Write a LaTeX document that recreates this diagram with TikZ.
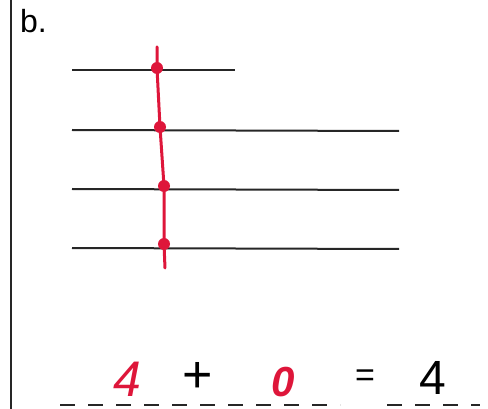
\documentclass[tikz,border=0pt]{standalone}
\usepackage{fontspec}
\setmainfont{Liberation Sans}
\definecolor{handred}{RGB}{222,22,58}
\tikzset{
  rule/.style={line width=2pt, black!85},
  dotnode/.style={circle, fill=handred, inner sep=0pt, minimum size=12pt},
  redline/.style={handred, line width=3pt, line cap=round},
  blank/.style={black!85, line width=1.5pt, dash pattern=on 15pt off 13pt},
  redtext/.style={handred, font=\fontsize{50}{50}\selectfont\itshape, inner sep=0pt},
  blacktext/.style={black, font=\fontsize{48}{48}\selectfont, inner sep=0pt}
}
\begin{document}
\begin{tikzpicture}[x=1pt, y=-1pt]
\useasboundingbox (0,0) rectangle (488,409);
% left margin line
\coordinate (mt) at (11,0);
\coordinate (mb) at (11,409);
\draw[black!85, line width=2.2pt] (mt) -- (mb);
\node[font=\fontsize{32}{32}\selectfont, anchor=base west, inner sep=0pt] (lab) at (20,33) {b.};
% horizontal lines
\coordinate (l1a) at (72,70);  \coordinate (l1b) at (235,70);
\coordinate (l2a) at (72,130); \coordinate (l2b) at (399,131);
\coordinate (l3a) at (72,189); \coordinate (l3b) at (399,190);
\coordinate (l4a) at (72,248); \coordinate (l4b) at (399,249);
\draw[rule] (l1a) -- (l1b);
\draw[rule] (l2a) -- (l2b);
\draw[rule] (l3a) -- (l3b);
\draw[rule] (l4a) -- (l4b);
% red strand with dots
\coordinate (rtop) at (157,47);
\coordinate (rbot) at (165,268);
\node[dotnode] (d1) at (157,68) {};
\node[dotnode] (d2) at (160,127) {};
\node[dotnode] (d3) at (164,186) {};
\node[dotnode] (d4) at (164,244) {};
\draw[redline] (rtop) -- (d1.center) -- (d2.center) -- (d3.center) -- (d4.center) -- (rbot);
% sentence
\node[redtext] (a) at (127,379) {4};
\node[font=\fontsize{52}{52}\selectfont, inner sep=0pt] (plus) at (198,377) {+};
\node[redtext, font=\fontsize{42}{42}\selectfont\itshape\bfseries] (b) at (283,382) {0};
\node[font=\fontsize{34}{34}\selectfont, inner sep=0pt] (eq) at (365,378) {=};
\node[blacktext] (c) at (433,378) {4};
% blanks
\coordinate (u1a) at (60,405); \coordinate (u1b) at (340,405);
\coordinate (u2a) at (387,405); \coordinate (u2b) at (480,405);
\draw[blank] (u1a) -- (u1b);
\draw[blank] (u2a) -- (u2b);
\end{tikzpicture}
\end{document}
